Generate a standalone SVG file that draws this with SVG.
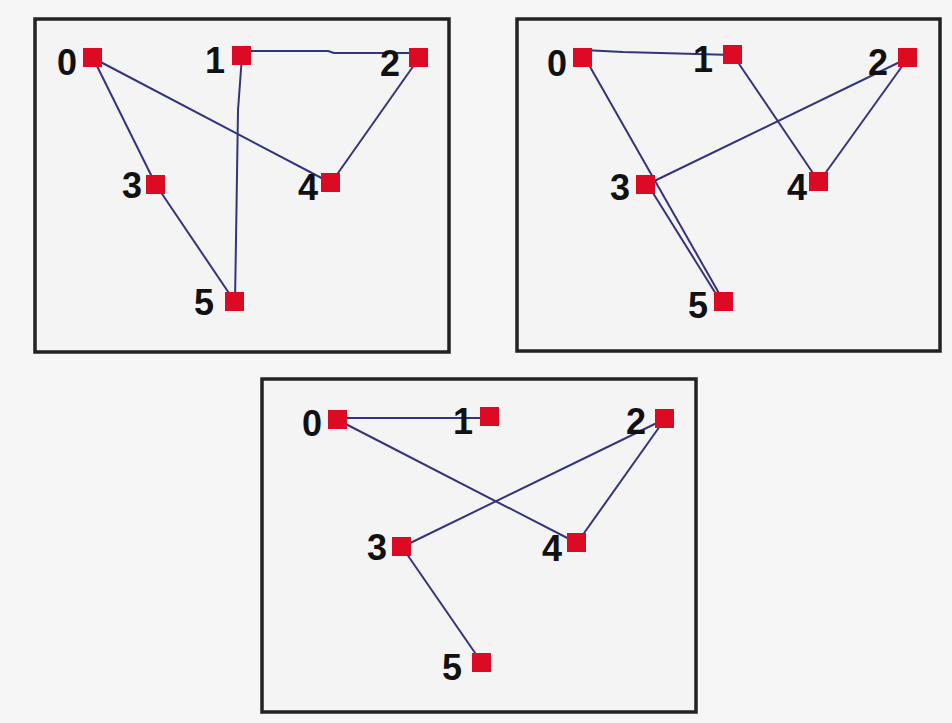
<svg xmlns="http://www.w3.org/2000/svg" width="952" height="723" viewBox="0 0 952 723">
<style>
.bg{fill:#f6f6f6}
.panel{fill:#f4f4f4;stroke:#222;stroke-width:3.5}
.e{fill:none;stroke:#34347a;stroke-width:2;stroke-linejoin:round}
.n rect{fill:#dc0a22}
.n text{font-family:"Liberation Sans",Arial,sans-serif;font-weight:bold;font-size:36px;fill:#111;text-anchor:middle}
</style>
<rect class="bg" x="0" y="0" width="952" height="723"/>
<g id="panels">
<rect class="panel" x="35" y="19" width="414" height="333"/>
<rect class="panel" x="517" y="19" width="423" height="332"/>
<rect class="panel" x="262" y="379" width="434" height="333"/>
</g>
<g id="connectors">
<!-- panel 1 -->
<polyline class="e" points="242,51 328,51 334,53 419,53"/>
<polyline class="e" points="242,56 238,110 236,240 235,302"/>
<line class="e" x1="93" y1="58" x2="156" y2="185"/>
<line class="e" x1="93" y1="58" x2="331" y2="183"/>
<line class="e" x1="419" y1="58" x2="331" y2="183"/>
<line class="e" x1="156" y1="185" x2="235" y2="302"/>
<!-- panel 2 -->
<polyline class="e" points="583,50 623,52 733,55"/>
<line class="e" x1="585" y1="58" x2="724" y2="302"/>
<line class="e" x1="648" y1="185" x2="721" y2="302"/>
<line class="e" x1="733" y1="55" x2="819" y2="182"/>
<line class="e" x1="908" y1="58" x2="646" y2="185"/>
<line class="e" x1="908" y1="58" x2="819" y2="182"/>
<!-- panel 3 -->
<line class="e" x1="338" y1="418" x2="490" y2="418"/>
<line class="e" x1="338" y1="420" x2="577" y2="543"/>
<line class="e" x1="665" y1="419" x2="402" y2="547"/>
<line class="e" x1="665" y1="419" x2="577" y2="543"/>
<line class="e" x1="402" y1="547" x2="482" y2="663"/>
</g>
<g id="p1-n0" class="n"><rect x="83" y="48" width="19" height="19"/><text x="67" y="75">0</text></g>
<g id="p1-n1" class="n"><rect x="232" y="46" width="19" height="19"/><text x="215" y="73">1</text></g>
<g id="p1-n2" class="n"><rect x="409" y="48" width="19" height="19"/><text x="390" y="76">2</text></g>
<g id="p1-n3" class="n"><rect x="146" y="175" width="19" height="19"/><text x="132" y="198">3</text></g>
<g id="p1-n4" class="n"><rect x="321" y="173" width="19" height="19"/><text x="308" y="200">4</text></g>
<g id="p1-n5" class="n"><rect x="225" y="292" width="19" height="19"/><text x="204" y="315">5</text></g>
<g id="p2-n0" class="n"><rect x="573" y="48" width="19" height="19"/><text x="557" y="76">0</text></g>
<g id="p2-n1" class="n"><rect x="723" y="45" width="19" height="19"/><text x="703" y="72">1</text></g>
<g id="p2-n2" class="n"><rect x="898" y="48" width="19" height="19"/><text x="878" y="75">2</text></g>
<g id="p2-n3" class="n"><rect x="636" y="175" width="19" height="19"/><text x="620" y="200">3</text></g>
<g id="p2-n4" class="n"><rect x="809" y="172" width="19" height="19"/><text x="797" y="200">4</text></g>
<g id="p2-n5" class="n"><rect x="714" y="292" width="19" height="19"/><text x="698" y="318">5</text></g>
<g id="p3-n0" class="n"><rect x="328" y="410" width="19" height="19"/><text x="312" y="436">0</text></g>
<g id="p3-n1" class="n"><rect x="480" y="407" width="19" height="19"/><text x="463" y="434">1</text></g>
<g id="p3-n2" class="n"><rect x="655" y="409" width="19" height="19"/><text x="636" y="434">2</text></g>
<g id="p3-n3" class="n"><rect x="392" y="537" width="19" height="19"/><text x="377" y="560">3</text></g>
<g id="p3-n4" class="n"><rect x="567" y="533" width="19" height="19"/><text x="552" y="561">4</text></g>
<g id="p3-n5" class="n"><rect x="472" y="653" width="19" height="19"/><text x="452" y="680">5</text></g>
</svg>
